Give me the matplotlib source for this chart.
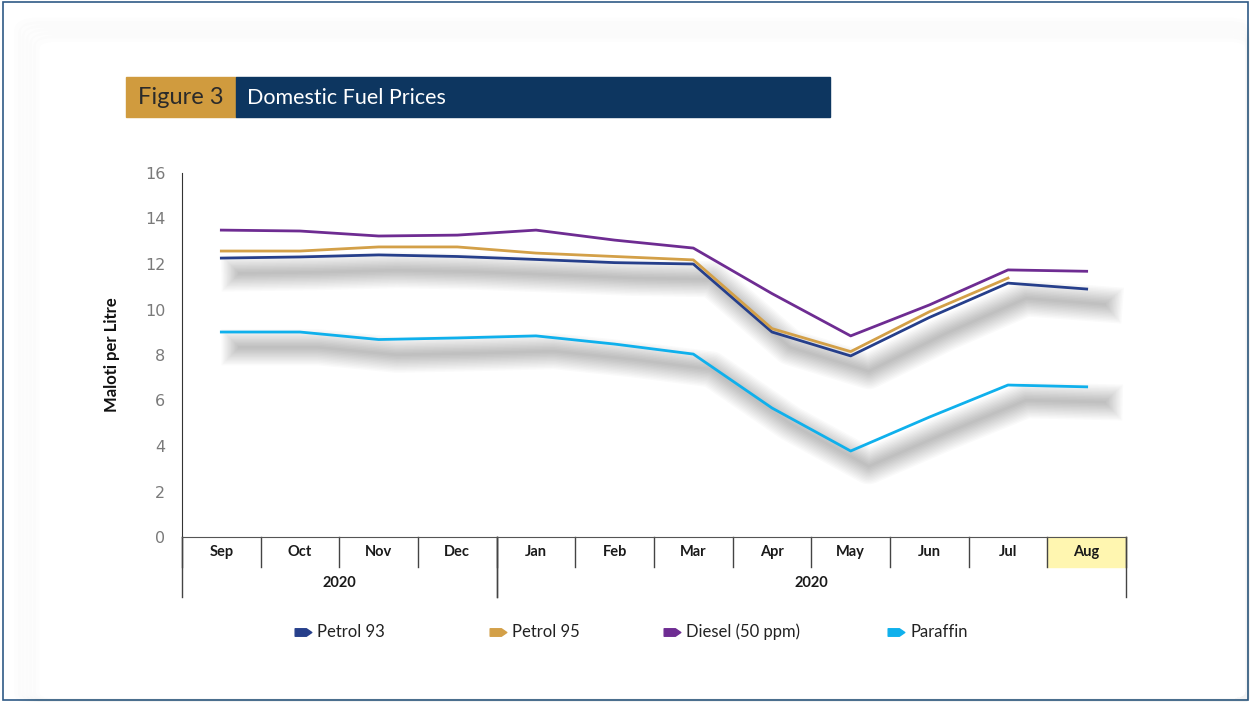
import matplotlib
matplotlib.use("Agg")
import matplotlib.pyplot as plt
import matplotlib.patheffects as pe
from matplotlib.lines import Line2D
from matplotlib.patches import Rectangle, FancyBboxPatch
from matplotlib.path import Path

# ---- data (Maloti per litre) ----
months = ["Sep", "Oct", "Nov", "Dec", "Jan", "Feb", "Mar", "Apr", "May", "Jun", "Jul", "Aug"]
year_groups = [("2020", 0, 3), ("2020", 4, 11)]
petrol93 = [12.26, 12.31, 12.40, 12.33, 12.20, 12.06, 12.00, 9.01, 7.96, 9.65, 11.16, 10.90]
petrol95 = [12.57, 12.57, 12.75, 12.75, 12.48, 12.33, 12.18, 9.16, 8.15, 9.90, 11.38, None]
diesel = [13.49, 13.45, 13.23, 13.27, 13.49, 13.05, 12.70, 10.70, 8.84, 10.20, 11.74, 11.68]
paraffin = [9.01, 9.01, 8.68, 8.75, 8.84, 8.48, 8.04, 5.67, 3.78, 5.27, 6.68, 6.60]
series_names = ["Petrol 93", "Petrol 95", "Diesel (50 ppm)", "Paraffin"]
series_colors = ["#263F8B", "#D3A048", "#6E2C92", "#0FB0EC"]
yticks = [0, 2, 4, 6, 8, 10, 12, 14, 16]

narrow = ["Lato", "DejaVu Sans"]

fig = plt.figure(figsize=(12.5, 7.02), dpi=100)

# outer frame and soft card
fig.add_artist(Rectangle((0.002, 0.003), 0.996, 0.994, transform=fig.transFigure,
                         fill=False, edgecolor="#2F5A86", lw=1.2))
for i in range(6):
    fig.add_artist(FancyBboxPatch((0.014 + i * 0.003, 0.0), 0.985 - i * 0.003, 0.97 - i * 0.005,
                                  boxstyle="round,pad=0,rounding_size=0.015",
                                  transform=fig.transFigure, fill=False,
                                  edgecolor="black", alpha=0.008, lw=5))

# header
fig.add_artist(Rectangle((126 / 1250, 1 - 117 / 702), 110 / 1250, 40 / 702,
                         transform=fig.transFigure, color="#D09B3E"))
fig.add_artist(Rectangle((236 / 1250, 1 - 117 / 702), 594 / 1250, 40 / 702,
                         transform=fig.transFigure, color="#0D3660"))
fig.text(138 / 1250, 1 - 98 / 702, "Figure 3", fontsize=17, color="#2A2A2A",
         family=narrow, va="center")
fig.text(247 / 1250, 1 - 98 / 702, "Domestic Fuel Prices", fontsize=15.5, color="white",
         family=narrow, va="center")

ax = fig.add_axes([182 / 1250, 1 - 537 / 702, 944 / 1250, 364 / 702])
x = list(range(len(months)))

shadow = [pe.SimpleLineShadow(offset=(13, -11), shadow_color="black", alpha=0.02, linewidth=w)
          for w in range(2, 28, 2)] + [pe.Normal()]

ax.plot(x, paraffin, color=series_colors[3], lw=2, path_effects=shadow, zorder=3)
ax.plot(x, petrol93, color=series_colors[0], lw=2, path_effects=shadow, zorder=4)
ax.plot(x[:11], petrol95[:11], color=series_colors[1], lw=2, zorder=5)
ax.plot(x, diesel, color=series_colors[2], lw=2, zorder=6)

ax.set_xlim(-0.5, len(months) - 0.5)
ax.set_ylim(0, 16)
ax.set_yticks(yticks)
ax.tick_params(axis="y", length=0, pad=12, labelsize=11.5, labelcolor="#7a7a7a")
ax.set_xticks([])
for s in ["top", "right"]:
    ax.spines[s].set_visible(False)
ax.spines["left"].set_color("#333333")
ax.spines["bottom"].set_color("#555555")
ax.set_ylabel("Maloti per Litre", fontsize=12, fontweight="bold", family=narrow,
              labelpad=18, color="#111111")

# category table under the axis
tr = ax.get_xaxis_transform()
row = 30 / 364
ax.add_patch(Rectangle((10.5, -row), 1, row, transform=tr, color="#FFF6B0",
                       clip_on=False, zorder=1))
for i in range(len(months) + 1):
    ax.plot([i - 0.5, i - 0.5], [0, -row], transform=tr, color="#444444", lw=1, clip_on=False)
for i, m in enumerate(months):
    ax.text(i, -row / 2, m, transform=tr, ha="center", va="center", fontsize=10.5,
            fontweight="bold", family=narrow, color="#1a1a1a")
for label, a, b in year_groups:
    ax.plot([a - 0.5, a - 0.5], [0, -2 * row], transform=tr, color="#444444", lw=1, clip_on=False)
    ax.plot([b + 0.5, b + 0.5], [0, -2 * row], transform=tr, color="#444444", lw=1, clip_on=False)
    ax.text((a + b) / 2, -1.52 * row, label, transform=tr, ha="center", va="center",
            fontsize=10.5, fontweight="bold", family=narrow, color="#1a1a1a")

# legend
pencil = Path([(-1, -0.45), (0.35, -0.45), (1, 0), (0.35, 0.45), (-1, 0.45), (-1, -0.45)],
              [Path.MOVETO, Path.LINETO, Path.LINETO, Path.LINETO, Path.LINETO, Path.CLOSEPOLY])
leg_x = [303, 498, 672, 896]
for name, c, lx in zip(series_names, series_colors, leg_x):
    fig.add_artist(Line2D([lx / 1250], [1 - 632 / 702], transform=fig.transFigure,
                          marker=pencil, markersize=12, color=c, markeredgecolor=c))
    fig.text((lx + 14) / 1250, 1 - 632 / 702, name, fontsize=12, family=narrow,
             va="center", color="#222222")

fig.savefig("out.png", dpi=100)
